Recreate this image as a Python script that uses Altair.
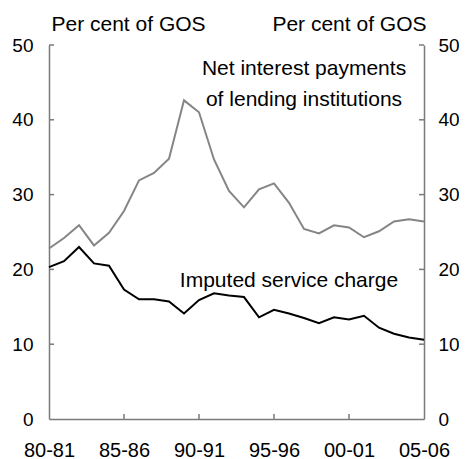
import altair as alt
import pandas as pd

years = ["80-81", "81-82", "82-83", "83-84", "84-85", "85-86", "86-87", "87-88",
         "88-89", "89-90", "90-91", "91-92", "92-93", "93-94", "94-95", "95-96",
         "96-97", "97-98", "98-99", "99-00", "00-01", "01-02", "02-03", "03-04",
         "04-05", "05-06"]
net_interest = [22.8, 24.2, 25.9, 23.2, 24.9, 27.8, 31.9, 32.9, 34.8, 42.6, 41.0, 34.7, 30.5,
                28.3, 30.7, 31.5, 28.9, 25.4, 24.8, 25.9, 25.6, 24.3, 25.1, 26.4, 26.7, 26.4]
imputed = [20.3, 21.1, 23.0, 20.8, 20.5, 17.3, 16.0, 16.0, 15.7, 14.1, 15.9, 16.8, 16.5,
           16.3, 13.6, 14.6, 14.1, 13.5, 12.8, 13.6, 13.3, 13.8, 12.2, 11.4, 10.9, 10.6]
x_tick_labels = ["80-81", "85-86", "90-91", "95-96", "00-01", "05-06"]
y_ticks = [0, 10, 20, 30, 40, 50]

ann_text = ["Net interest payments", "of lending institutions", "Imputed service charge"]
ann_x = ["97-98", "97-98", "96-97"]
ann_y = [46.0, 41.8, 17.7]

W, H = 375, 374
FONT = "Liberation Sans, Arial, sans-serif"
GREY = "#858585"
FRAME = "#7a7a7a"

df = pd.DataFrame({"year": years, "net": net_interest, "imp": imputed})
ann = pd.DataFrame({"text": ann_text, "year": ann_x, "v": ann_y})
yt = pd.DataFrame({"v": [float(t) for t in y_ticks[1:]]})
xt = pd.DataFrame({"year": x_tick_labels[1:-1]})

xscale = alt.Scale(type="point", domain=years, padding=0)
yscale = alt.Scale(domain=[0, 50], nice=False)

x_enc = alt.X("year:O", scale=xscale, sort=years,
              axis=alt.Axis(values=x_tick_labels, labelAngle=0, labelPadding=21,
                            labelAlign="center", labelBaseline="top", title=None,
                            labelFontSize=20, domain=True, domainColor=FRAME,
                            domainWidth=1.5, domainOpacity=1))

left_line = alt.Chart(df).mark_line(color=GREY, strokeWidth=2).encode(
    x=x_enc,
    y=alt.Y("net:Q", scale=yscale,
            axis=alt.Axis(orient="left", values=y_ticks, labelPadding=16,
                          domain=True, domainColor=FRAME, domainWidth=1.5, domainOpacity=1,
                          title="Per cent of GOS", titleAngle=0, titleAlign="left",
                          titleBaseline="alphabetic", titleX=2, titleY=-15,
                          titleFont=FONT, titleFontSize=21, titleFontWeight="normal",
                          titleColor="black"))
)

right_line = alt.Chart(df).mark_line(color="black", strokeWidth=2).encode(
    x=x_enc,
    y=alt.Y("imp:Q", scale=yscale,
            axis=alt.Axis(orient="right", values=y_ticks, labelPadding=14,
                          domain=True, domainColor=FRAME, domainWidth=1.5, domainOpacity=1,
                          title="Per cent of GOS", titleAngle=0, titleAlign="right",
                          titleBaseline="alphabetic", titleX=2, titleY=-15,
                          titleFont=FONT, titleFontSize=21, titleFontWeight="normal",
                          titleColor="black"))
)

ytick_left = alt.Chart(yt).mark_rule(color=FRAME, strokeWidth=1.5, opacity=1).encode(
    y=alt.Y("v:Q", scale=yscale, axis=None), x=alt.value(0), x2=alt.value(5))
ytick_right = alt.Chart(yt).mark_rule(color=FRAME, strokeWidth=1.5, opacity=1).encode(
    y=alt.Y("v:Q", scale=yscale, axis=None), x=alt.value(W - 5), x2=alt.value(W))
xtick = alt.Chart(xt).mark_rule(color=FRAME, strokeWidth=1.5, opacity=1).encode(
    x=x_enc, y=alt.value(H - 5), y2=alt.value(H))

labels = alt.Chart(ann).mark_text(font=FONT, fontSize=21, color="black",
                                  align="center", baseline="alphabetic").encode(
    x=x_enc,
    y=alt.Y("v:Q", scale=yscale, axis=None),
    text="text:N")

chart = alt.layer(left_line, right_line, ytick_left, ytick_right, xtick,
                  labels).resolve_axis(
    y="independent"
).properties(
    width=W, height=H,
    autosize=alt.AutoSizeParams(type="none"),
    padding={"left": 41, "top": 37, "right": 35, "bottom": 40},
).configure_view(stroke=None).configure_axis(
    labelFont=FONT, labelFontSize=19, labelColor="black",
    ticks=False, grid=False,
)

chart.save("out.html", embed_options={"renderer": "svg", "actions": False})
